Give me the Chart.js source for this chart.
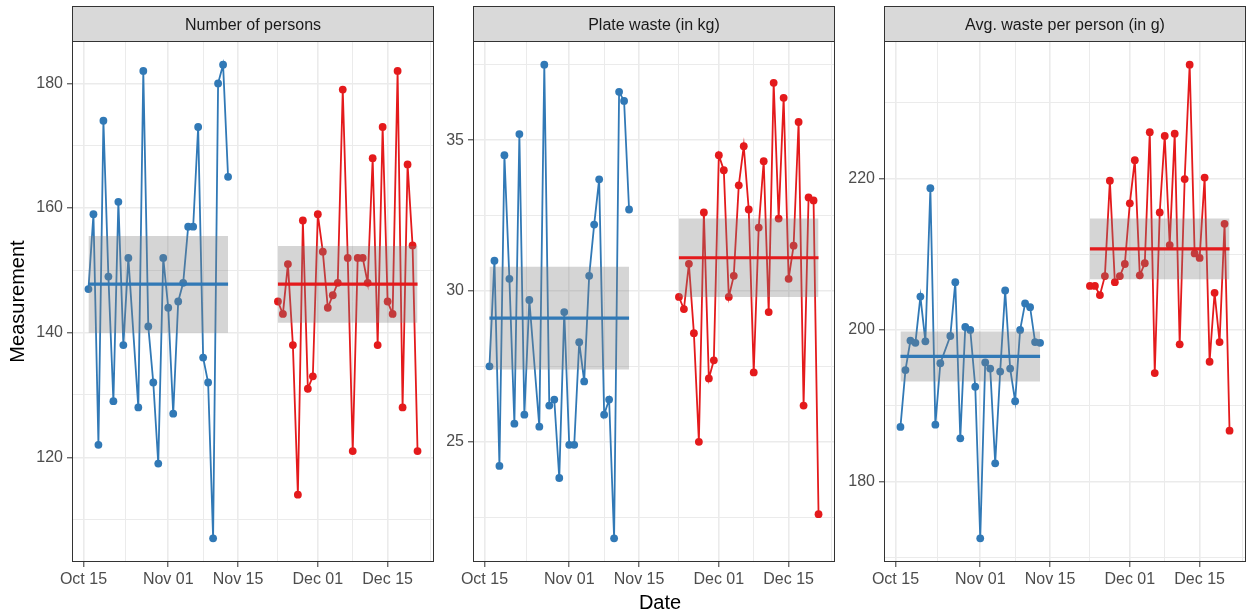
<!DOCTYPE html>
<html>
<head>
<meta charset="utf-8">
<title>Plate waste before / after</title>
<script src="https://cdn.jsdelivr.net/npm/chart.js@4.4.1/dist/chart.umd.min.js"></script>
<style>
  body { margin: 0; background: #fff; }
  #wrap { position: relative; width: 1253px; height: 615px; overflow: hidden; }
  #wrap canvas { position: absolute; top: 0; }
  #xtitle { position: absolute; left: 560px; width: 200px; top: 590px; text-align: center;
            font: 20px "Liberation Sans", Arial, sans-serif; line-height: 24px; color: #000; }
</style>
</head>
<body>
<div id="wrap">
  <canvas id="p1" width="440" height="615" style="left:0px"></canvas>
  <canvas id="p2" width="404" height="615" style="left:436px"></canvas>
  <canvas id="p3" width="413" height="615" style="left:840px"></canvas>
  <div id="xtitle">Date</div>
</div>
<script>
// dates (month-day) of each period
const datesBefore = ['10-16','10-17','10-18','10-19','10-20','10-21','10-22','10-23','10-24',
  '10-26','10-27','10-28','10-29','10-30','10-31','11-01','11-02','11-03','11-04','11-05',
  '11-06','11-07','11-08','11-09','11-10','11-11','11-12','11-13'];
const datesAfter = ['11-23','11-24','11-25','11-26','11-27','11-28','11-29','11-30',
  '12-01','12-02','12-03','12-04','12-05','12-06','12-07','12-08','12-09','12-10','12-11',
  '12-12','12-13','12-14','12-15','12-16','12-17','12-18','12-19','12-20','12-21'];

// Number of persons
const personsBefore = [147,159,122,174,149,129,161,138,152,128,182,141,132,119,152,144,127,145,148,157,157,173,136,132,107,180,183,165];
const personsAfter = [145,143,151,138,114,158,131,133,159,153,144,146,148,179,152,121,152,152,148,168,138,173,145,143,182,128,167,154,121];
const personsMean = [147.8, 147.8];
const personsBandBefore = [140.0, 155.5];
const personsBandAfter = [141.6, 153.9];

// Plate waste (kg)
const wasteBefore = [27.5,31.0,24.2,34.5,30.4,25.6,35.2,25.9,29.7,25.5,37.5,26.2,26.4,23.8,29.3,24.9,24.9,28.3,27.0,30.5,32.2,33.7,25.9,26.4,21.8,36.6,36.3,32.7];
const wasteAfter = [29.8,29.4,30.9,28.6,25.0,32.6,27.1,27.7,34.5,34.0,29.8,30.5,33.5,34.8,32.7,27.3,32.1,34.3,29.3,36.9,32.4,36.4,30.4,31.5,35.6,26.2,33.1,33.0,22.6];
const wasteMean = [29.1, 31.1];
const wasteBandBefore = [27.4, 30.8];
const wasteBandAfter = [29.8, 32.4];

// Avg. waste per person (g)
const perPersonBefore = [187.2,194.7,198.6,198.3,204.4,198.5,218.7,187.5,195.6,199.2,206.3,185.7,200.4,200.0,192.5,172.5,195.7,194.9,182.4,194.5,205.2,194.9,190.6,200.0,203.5,203.0,198.4,198.3];
const perPersonAfter = [205.8,205.8,204.6,207.1,219.7,206.3,207.1,208.7,216.7,222.4,207.2,208.8,226.1,194.3,215.5,225.6,211.2,225.9,198.1,219.9,235.0,210.1,209.5,220.1,195.8,204.9,198.4,214.0,186.7];
const perPersonMean = [196.5, 210.7];
const perPersonBandBefore = [193.2, 199.8];
const perPersonBandAfter = [206.7, 214.7];

// axis breaks
const xBreaks = ['10-15','11-01','11-15','12-01','12-15'];
const xBreakLabels = ['Oct 15','Nov 01','Nov 15','Dec 01','Dec 15'];

const BLUE = '#3179B6', RED = '#E41A1C';
Chart.defaults.font.family = '"Liberation Sans", Arial, sans-serif';

// day number counted from Oct 15
const day = s => {
  const [m, d] = s.split('-').map(Number);
  return (Date.UTC(2020, m - 1, d) - Date.UTC(2020, 9, 15)) / 864e5;
};

const majorDays = xBreaks.map(day);
const minorDays = majorDays.map((v, i) => ((majorDays[i + 1] ?? day('12-31') + 1) + v) / 2);
const allDays = datesBefore.concat(datesAfter).map(day);
const xLo = Math.min(...allDays), xHi = Math.max(...allDays);
const xPad = (xHi - xLo) * 0.05;

const stripPlugin = {
  id: 'strip',
  beforeDraw(chart) {
    const { ctx, chartArea: a } = chart;
    ctx.save();
    ctx.fillStyle = '#D9D9D9';
    ctx.fillRect(a.left, 6, a.right - a.left, a.top - 6);
    ctx.strokeStyle = '#333333';
    ctx.lineWidth = 1;
    ctx.strokeRect(a.left + 0.5, 6.5, a.right - a.left - 1, a.top - 6);
    ctx.restore();
  },
  afterDraw(chart) {
    const { ctx, chartArea: a } = chart;
    ctx.save();
    ctx.strokeStyle = '#333333';
    ctx.lineWidth = 1;
    ctx.strokeRect(a.left + 0.5, a.top + 0.5, a.right - a.left - 1, a.bottom - a.top - 1);
    ctx.restore();
  }
};

function serie(dates, values, color) {
  return {
    data: dates.map((d, i) => ({ x: day(d), y: values[i] })),
    borderColor: color, backgroundColor: color, borderWidth: 1.8,
    pointRadius: 3.9, pointBorderWidth: 0, pointBackgroundColor: color,
    fill: false, order: 3
  };
}

function banda(dates, band) {
  const x0 = day(dates[0]), x1 = day(dates[dates.length - 1]);
  return [
    { data: [{ x: x0, y: band[0] }, { x: x1, y: band[0] }], borderColor: 'transparent',
      borderWidth: 0, pointRadius: 0, fill: false, order: 2 },
    { data: [{ x: x0, y: band[1] }, { x: x1, y: band[1] }], borderColor: 'transparent',
      borderWidth: 0, pointRadius: 0, fill: '-1', backgroundColor: 'rgba(127,127,127,0.33)', order: 2 }
  ];
}

function media(dates, mean, color) {
  const x0 = day(dates[0]), x1 = day(dates[dates.length - 1]);
  return { data: [{ x: x0, y: mean }, { x: x1, y: mean }], borderColor: color,
    borderWidth: 3.2, pointRadius: 0, fill: false, order: 1 };
}

function panel(id, cfg) {
  const vals = cfg.before.concat(cfg.after);
  const lo = Math.min(...vals), hi = Math.max(...vals), pad = (hi - lo) * 0.05;
  const yGrid = cfg.yMinor.concat(cfg.yMajor).sort((a, b) => a - b);
  const isMajorX = v => majorDays.includes(v);
  const isMajorY = v => cfg.yMajor.includes(v);

  new Chart(document.getElementById(id), {
    type: 'line',
    data: {
      datasets: [
        serie(datesBefore, cfg.before, BLUE),
        serie(datesAfter, cfg.after, RED),
        ...banda(datesBefore, cfg.bandBefore),
        ...banda(datesAfter, cfg.bandAfter),
        media(datesBefore, cfg.mean[0], BLUE),
        media(datesAfter, cfg.mean[1], RED)
      ]
    },
    options: {
      responsive: false,
      animation: false,
      events: [],
      layout: { padding: { top: 6, right: cfg.padRight, left: 0, bottom: 0 } },
      plugins: {
        legend: { display: false },
        tooltip: { enabled: false },
        title: {
          display: true, text: cfg.title, fullSize: false, color: '#1A1A1A',
          font: { size: 16, weight: 'normal' }, padding: { top: 10, bottom: 5.8 }
        }
      },
      scales: {
        x: {
          type: 'linear', bounds: 'data', min: xLo - xPad, max: xHi + xPad,
          afterBuildTicks: s => { s.ticks = majorDays.concat(minorDays).sort((a, b) => a - b).map(v => ({ value: v })); },
          afterFit: s => { s.height = 53; },
          ticks: {
            autoSkip: false, maxRotation: 0, padding: 3, color: '#4D4D4D', font: { size: 16 },
            callback: v => isMajorX(v) ? xBreakLabels[majorDays.indexOf(v)] : ''
          },
          grid: {
            color: '#EBEBEB',
            lineWidth: c => isMajorX(c.tick.value) ? 1.6 : 1,
            tickLength: 5, tickWidth: 1,
            tickColor: c => isMajorX(c.tick.value) ? '#333333' : 'transparent'
          },
          border: { display: false }
        },
        y: {
          type: 'linear', bounds: 'data', min: lo - pad, max: hi + pad,
          afterBuildTicks: s => { s.ticks = yGrid.map(v => ({ value: v })); },
          afterFit: s => { s.width = cfg.yWidth; },
          ticks: {
            padding: 4, color: '#4D4D4D', font: { size: 16 },
            callback: v => isMajorY(v) ? String(v) : ''
          },
          grid: {
            color: '#EBEBEB',
            lineWidth: c => isMajorY(c.tick.value) ? 1.6 : 1,
            tickLength: 5, tickWidth: 1,
            tickColor: c => isMajorY(c.tick.value) ? '#333333' : 'transparent'
          },
          border: { display: false },
          title: cfg.yTitle
            ? { display: true, text: cfg.yTitle, color: '#000', font: { size: 20 }, padding: { top: 6, bottom: 0 } }
            : { display: false }
        }
      }
    },
    plugins: [stripPlugin]
  });
}

panel('p1', {
  title: 'Number of persons', yTitle: 'Measurement', yWidth: 72, padRight: 6,
  before: personsBefore, after: personsAfter, mean: personsMean,
  bandBefore: personsBandBefore, bandAfter: personsBandAfter,
  yMajor: [120, 140, 160, 180], yMinor: [110, 130, 150, 170]
});

panel('p2', {
  title: 'Plate waste (in kg)', yWidth: 37, padRight: 5,
  before: wasteBefore, after: wasteAfter, mean: wasteMean,
  bandBefore: wasteBandBefore, bandAfter: wasteBandAfter,
  yMajor: [25, 30, 35], yMinor: [22.5, 27.5, 32.5, 37.5]
});

panel('p3', {
  title: 'Avg. waste per person (in g)', yWidth: 44, padRight: 7,
  before: perPersonBefore, after: perPersonAfter, mean: perPersonMean,
  bandBefore: perPersonBandBefore, bandAfter: perPersonBandAfter,
  yMajor: [180, 200, 220], yMinor: [170, 190, 210, 230]
});
</script>
</body>
</html>
